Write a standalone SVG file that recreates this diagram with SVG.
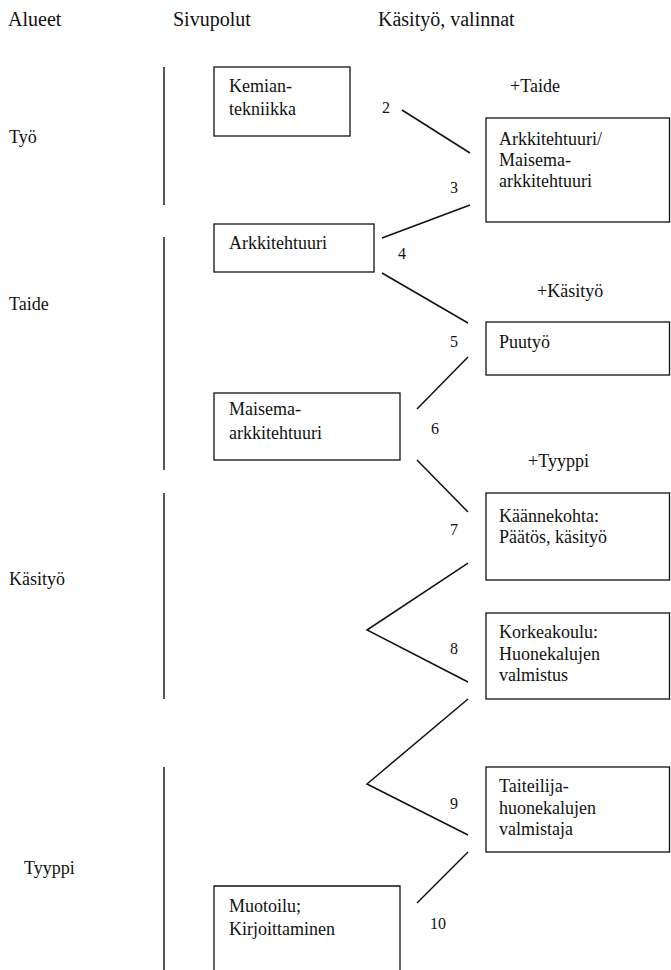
<svg xmlns="http://www.w3.org/2000/svg" width="671" height="970" viewBox="0 0 671 970">
<style>
text{font-family:"Liberation Serif","Times New Roman",serif;fill:#111}
.h{font-size:20px}
.t{font-size:18px}
.n{font-size:16px}
.box{fill:none;stroke:#111;stroke-width:1.3}
.ax{stroke:#111;stroke-width:1.4;fill:none}
.c{stroke:#111;stroke-width:1.5;fill:none}
</style>
<rect width="671" height="970" fill="#fff"/>
<g id="headers">
<text class="h" x="8" y="26">Alueet</text>
<text class="h" x="173" y="26">Sivupolut</text>
<text class="h" x="378" y="26">Käsityö, valinnat</text>
</g>
<g id="area-tyo">
<line class="ax" x1="164" y1="67" x2="164" y2="205"/>
<text class="t" x="9" y="143">Työ</text>
</g>
<g id="area-taide">
<line class="ax" x1="164" y1="237" x2="164" y2="470"/>
<text class="t" x="9" y="310">Taide</text>
</g>
<g id="area-kasityo">
<line class="ax" x1="164" y1="493" x2="164" y2="699"/>
<text class="t" x="9" y="585">Käsityö</text>
</g>
<g id="area-tyyppi">
<line class="ax" x1="164" y1="767" x2="164" y2="970"/>
<text class="t" x="24" y="874">Tyyppi</text>
</g>
<g id="kemiantekniikka">
<rect class="box" x="214" y="67" width="136" height="69"/>
<text class="t" x="229" y="92">Kemian-</text>
<text class="t" x="229" y="115">tekniikka</text>
</g>
<g id="arkkitehtuuri">
<rect class="box" x="214" y="224" width="160" height="48"/>
<text class="t" x="229" y="249">Arkkitehtuuri</text>
</g>
<g id="maisema-arkkitehtuuri">
<rect class="box" x="214" y="393" width="186" height="67"/>
<text class="t" x="229" y="415">Maisema-</text>
<text class="t" x="229" y="439">arkkitehtuuri</text>
</g>
<g id="muotoilu">
<path class="box" d="M214,975 V886 H400 V975"/>
<text class="t" x="229" y="912">Muotoilu;</text>
<text class="t" x="229" y="935">Kirjoittaminen</text>
</g>
<g id="label-taide"><text class="t" x="510" y="92">+Taide</text></g>
<g id="label-kasityo"><text class="t" x="537" y="297">+Käsityö</text></g>
<g id="label-tyyppi"><text class="t" x="528" y="467">+Tyyppi</text></g>
<g id="arkkitehtuuri-maisema">
<rect class="box" x="486" y="118" width="183.5" height="104"/>
<text class="t" x="499" y="145">Arkkitehtuuri/</text>
<text class="t" x="499" y="166">Maisema-</text>
<text class="t" x="499" y="187">arkkitehtuuri</text>
</g>
<g id="puutyo">
<rect class="box" x="486" y="322" width="183.5" height="53"/>
<text class="t" x="499" y="348">Puutyö</text>
</g>
<g id="kaannekohta">
<rect class="box" x="486" y="493" width="183.5" height="87"/>
<text class="t" x="499" y="522">Käännekohta:</text>
<text class="t" x="499" y="543">Päätös, käsityö</text>
</g>
<g id="korkeakoulu">
<rect class="box" x="486" y="613" width="183.5" height="86"/>
<text class="t" x="499" y="638">Korkeakoulu:</text>
<text class="t" x="499" y="660">Huonekalujen</text>
<text class="t" x="499" y="681">valmistus</text>
</g>
<g id="taiteilija">
<rect class="box" x="486" y="767" width="183.5" height="85"/>
<text class="t" x="499" y="792">Taiteilija-</text>
<text class="t" x="499" y="814">huonekalujen</text>
<text class="t" x="499" y="835">valmistaja</text>
</g>
<g id="connectors">
<line class="c" x1="402" y1="110" x2="470" y2="153"/>
<line class="c" x1="382" y1="238" x2="470" y2="205"/>
<line class="c" x1="382" y1="273" x2="468" y2="323"/>
<line class="c" x1="468" y1="357" x2="417" y2="409"/>
<line class="c" x1="417" y1="460" x2="468" y2="512"/>
<polyline class="c" points="468,563 367,630 468,682"/>
<polyline class="c" points="468,699 367,784 468,835"/>
<line class="c" x1="468" y1="852" x2="417" y2="903"/>
<text class="n" x="382" y="113">2</text>
<text class="n" x="450" y="193">3</text>
<text class="n" x="398" y="259">4</text>
<text class="n" x="450" y="347">5</text>
<text class="n" x="431" y="434">6</text>
<text class="n" x="450" y="535">7</text>
<text class="n" x="450" y="654">8</text>
<text class="n" x="450" y="809">9</text>
<text class="n" x="430" y="929">10</text>
</g>
</svg>
